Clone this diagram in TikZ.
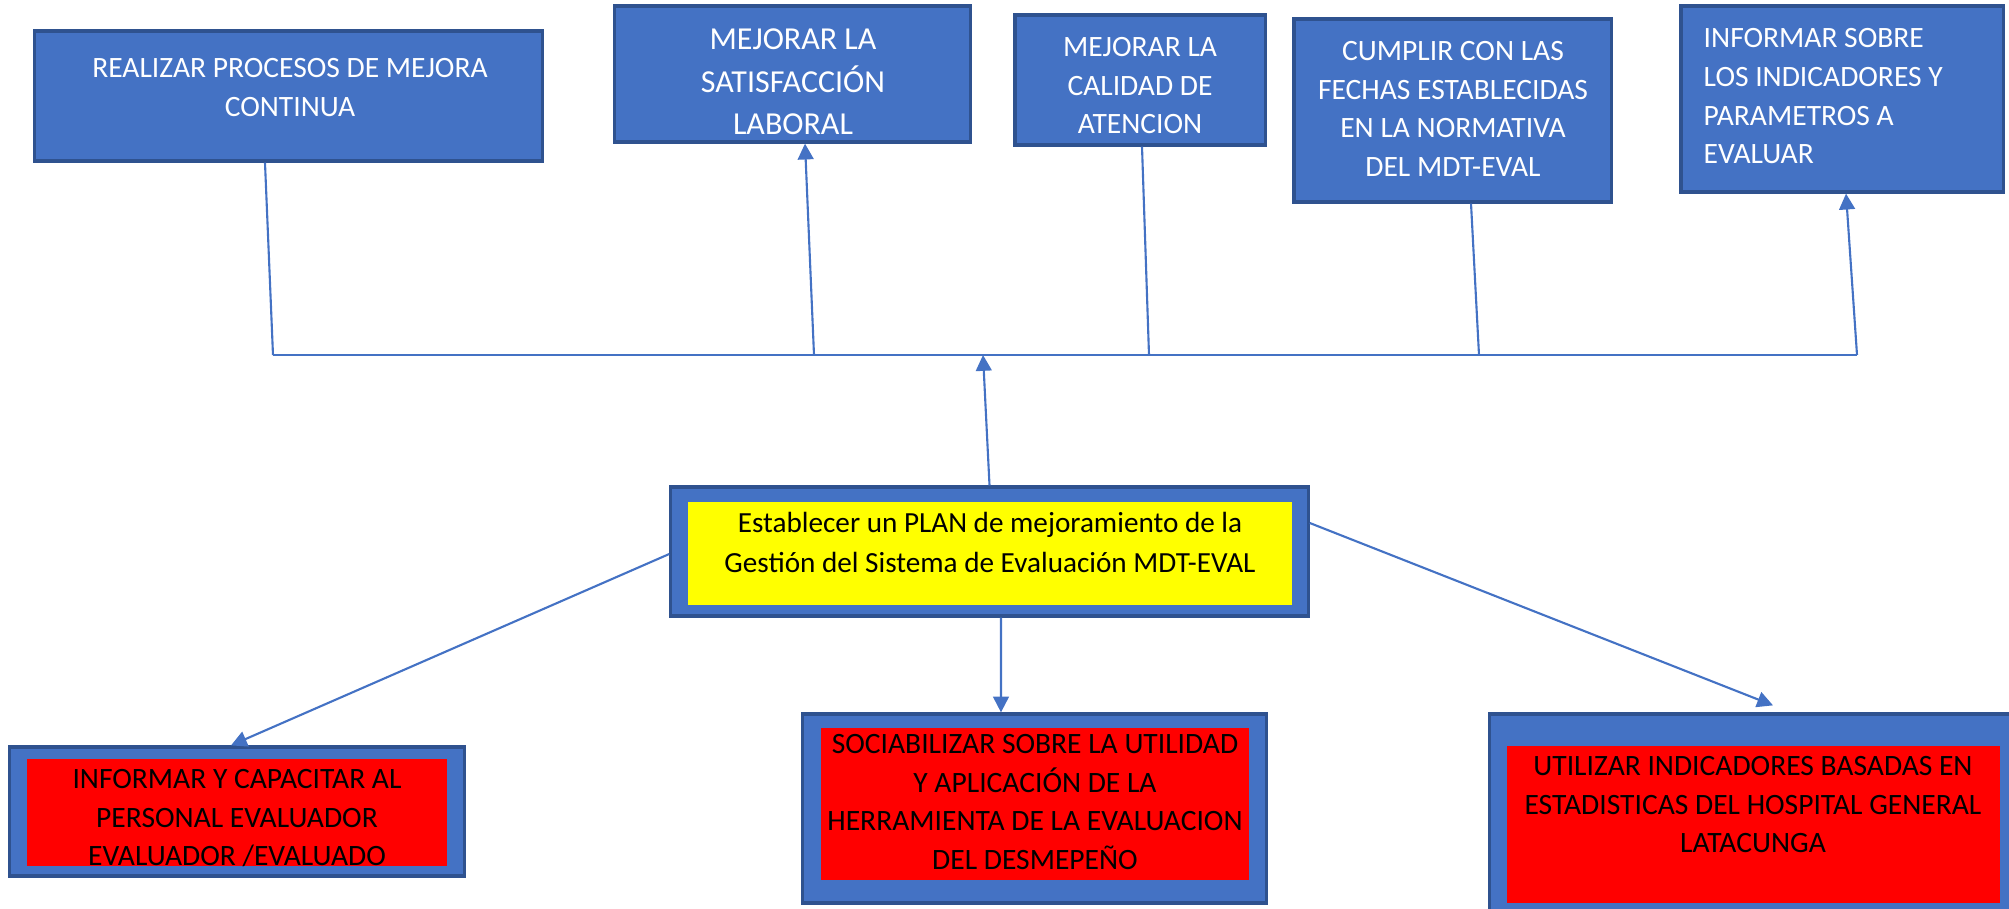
\documentclass[tikz,border=0pt]{standalone}
\usepackage{fontspec}
\setmainfont{Carlito}
\usetikzlibrary{arrows.meta}
\definecolor{azul}{HTML}{4472C4}
\definecolor{azulborde}{HTML}{2F528F}
\definecolor{amarillo}{HTML}{FFFF00}
\definecolor{rojo}{HTML}{FF0000}

\begin{document}
\begin{tikzpicture}[x=0.01cm,y=-0.01cm,
  caja/.style={draw=azulborde, line width=0.9pt, fill=azul, inner sep=0pt},
  fondo/.style={inner sep=0pt},
  texto/.style={anchor=north, inner sep=0pt, align=center, font=\fontsize{8.4}{11}\selectfont},
  flecha/.style={azul, line width=0.6pt, -{Triangle[length=4.5pt,width=4.5pt]}},
  linea/.style={azul, line width=0.6pt}]

\useasboundingbox (0,0) rectangle (2009,908);

% objetivos (arriba)
\node[caja, minimum width=5.07cm, minimum height=1.30cm] (obj1) at (288.5,96) {};
\node[caja, minimum width=3.55cm, minimum height=1.36cm] (obj2) at (792.5,74) {};
\node[caja, minimum width=2.50cm, minimum height=1.30cm] (obj3) at (1140,80) {};
\node[caja, minimum width=3.17cm, minimum height=1.83cm] (obj4) at (1452.5,110.5) {};
\node[caja, minimum width=3.22cm, minimum height=1.86cm] (obj5) at (1842,99) {};

\node[texto, white] (t1) at (290,57.5) {REALIZAR PROCESOS DE MEJORA\\CONTINUA};
\node[texto, white, font=\fontsize{9.1}{12.1}\selectfont] (t2) at (793,28) {MEJORAR LA\\SATISFACCIÓN\\LABORAL};
\node[texto, white] (t3) at (1140,36.5) {MEJORAR LA\\CALIDAD DE\\ATENCION};
\node[texto, white] (t4) at (1453,40.5) {CUMPLIR CON LAS\\FECHAS ESTABLECIDAS\\EN LA NORMATIVA\\DEL MDT-EVAL};
\node[texto, white, anchor=north west, align=left] (t5) at (1703,28) {INFORMAR SOBRE\\LOS INDICADORES Y\\PARAMETROS A\\EVALUAR};

% plan (centro)
\node[caja, minimum width=6.37cm, minimum height=1.29cm] (plan) at (989.5,551.5) {};
\node[fondo, fill=amarillo, minimum width=6.04cm, minimum height=1.03cm] (planin) at (990,553.5) {};
\node[texto, font=\fontsize{8.3}{11.2}\selectfont] (tplan) at (990,512) {Establecer un PLAN de mejoramiento de la\\Gestión del Sistema de Evaluación MDT-EVAL};

% acciones (abajo)
\node[caja, minimum width=4.54cm, minimum height=1.29cm] (acc1) at (237,811.5) {};
\node[fondo, fill=rojo, minimum width=4.20cm, minimum height=1.07cm] (acc1in) at (237,812.5) {};
\node[caja, minimum width=4.63cm, minimum height=1.89cm] (acc2) at (1034.5,808.5) {};
\node[fondo, fill=rojo, minimum width=4.28cm, minimum height=1.52cm] (acc2in) at (1035,804) {};
\node[caja, minimum width=5.22cm, minimum height=1.98cm] (acc3) at (1751,813) {};
\node[fondo, fill=rojo, minimum width=4.93cm, minimum height=1.57cm] (acc3in) at (1753.5,824.5) {};

\node[texto] (ta1) at (237,768.5) {INFORMAR Y CAPACITAR AL\\PERSONAL EVALUADOR\\EVALUADOR /EVALUADO};
\node[texto] (ta2) at (1035,733.5) {SOCIABILIZAR SOBRE LA UTILIDAD\\Y APLICACIÓN DE LA\\HERRAMIENTA DE LA EVALUACION\\DEL DESMEPEÑO};
\node[texto] (ta3) at (1753,755.5) {UTILIZAR INDICADORES BASADAS EN\\ESTADISTICAS DEL HOSPITAL GENERAL\\LATACUNGA};

% barra
\coordinate (j1) at (273,355);
\coordinate (j2) at (814,355);
\coordinate (j3) at (1149,355);
\coordinate (j4) at (1479,355);
\coordinate (j5) at (1857,355);
\coordinate (j6) at (983,355);
\draw[linea] (j1) -- (j5);

\draw[linea] ([xshift=-0.235cm]obj1.south) -- (j1);
\draw[flecha] (j2) -- ([xshift=0.125cm]obj2.south);
\draw[linea] ([xshift=0.02cm]obj3.south) -- (j3);
\draw[linea] ([xshift=0.185cm]obj4.south) -- (j4);
\draw[flecha] (j5) -- ([xshift=0.04cm]obj5.south);
\draw[flecha] (plan.north) -- (j6);

\draw[flecha] ([yshift=-0.025cm]plan.west) -- ([xshift=-0.06cm]acc1.north);
\draw[flecha] ([xshift=0.115cm]plan.south) -- ([xshift=-0.335cm]acc2.north);
\draw[flecha] ([yshift=0.285cm]plan.east) -- ([xshift=0.22cm,yshift=0.07cm]acc3.north);

\end{tikzpicture}
\end{document}
